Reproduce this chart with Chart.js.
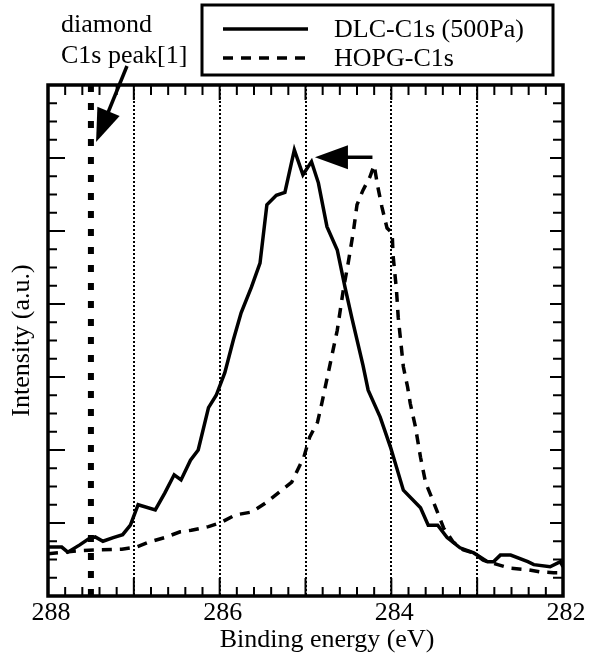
<!DOCTYPE html>
<html><head><meta charset="utf-8">
<script src="https://cdn.jsdelivr.net/npm/chart.js@4.4.1/dist/chart.umd.min.js"></script>
<style>html,body{margin:0;padding:0;background:#fff;}#wrap{width:589px;height:656px;}</style>
</head><body><div id="wrap"><canvas id="c" width="589" height="656"></canvas></div>
<script>
// ---- data ----
const energyDLC = [288.00, 287.84, 287.77, 287.63, 287.53, 287.45, 287.36, 287.24, 287.13, 287.04, 286.95, 286.75, 286.64, 286.53, 286.45, 286.34, 286.25, 286.13, 286.04, 285.94, 285.84, 285.75, 285.63, 285.53, 285.45, 285.34, 285.24, 285.13, 285.03, 284.93, 284.85, 284.75, 284.63, 284.54, 284.46, 284.33, 284.27, 284.13, 284.01, 283.86, 283.66, 283.57, 283.46, 283.35, 283.20, 283.04, 282.88, 282.81, 282.73, 282.61, 282.41, 282.34, 282.15, 282.03, 282.00];
const intensityDLC = [0.67, 0.67, 0.60, 0.70, 0.78, 0.81, 0.75, 0.80, 0.84, 0.97, 1.25, 1.18, 1.41, 1.66, 1.59, 1.86, 2.00, 2.58, 2.75, 3.06, 3.51, 3.88, 4.23, 4.56, 5.36, 5.49, 5.53, 6.11, 5.77, 5.95, 5.66, 5.06, 4.74, 4.23, 3.81, 3.16, 2.82, 2.45, 2.04, 1.45, 1.21, 0.97, 0.97, 0.80, 0.66, 0.59, 0.47, 0.47, 0.56, 0.56, 0.47, 0.43, 0.40, 0.47, 0.40];
const energyHOPG = [288.00, 287.65, 287.44, 287.14, 286.97, 286.82, 286.64, 286.46, 286.33, 286.13, 285.98, 285.82, 285.63, 285.47, 285.32, 285.16, 285.02, 284.95, 284.86, 284.81, 284.72, 284.63, 284.56, 284.50, 284.44, 284.40, 284.33, 284.25, 284.20, 284.16, 284.11, 284.05, 283.99, 283.98, 283.94, 283.92, 283.88, 283.86, 283.81, 283.78, 283.72, 283.66, 283.60, 283.52, 283.45, 283.39, 283.28, 283.16, 283.04, 282.93, 282.76, 282.61, 282.41, 282.26, 282.11, 282.00];
const intensityHOPG = [0.58, 0.62, 0.63, 0.64, 0.67, 0.74, 0.80, 0.88, 0.90, 0.95, 1.01, 1.11, 1.15, 1.27, 1.41, 1.56, 1.90, 2.18, 2.38, 2.64, 3.14, 3.64, 4.19, 4.58, 5.01, 5.36, 5.56, 5.74, 5.90, 5.62, 5.33, 5.04, 4.97, 4.67, 4.19, 3.82, 3.37, 3.14, 2.86, 2.64, 2.32, 1.90, 1.55, 1.32, 1.11, 0.93, 0.74, 0.63, 0.59, 0.49, 0.43, 0.38, 0.36, 0.33, 0.32, 0.32];
const diamondPeakEnergy = 287.5;
const intensityRange = [0, 7];
const energyRange = [282, 288];
const xTickLabels = [288, 286, 284, 282];
const seriesLabels = ['DLC-C1s (500Pa)', 'HOPG-C1s'];
const xTitle = 'Binding energy (eV)';
const yTitle = 'Intensity (a.u.)';
const noteLines = ['diamond', 'C1s peak[1]'];
// annotation arrows in data coordinates [energy, intensity]
const arrowDiamond = {from: [287.08, 7.26], to: [287.44, 6.22]};
const arrowShift = {from: [284.22, 6.01], to: [284.89, 6.01]};

const FONT = '"Liberation Serif", "Times New Roman", serif';
const pts = (xs, ys) => xs.map((v, i) => ({x: v, y: ys[i]}));

function drawArrow(ctx, x, y, a) {
  const x1 = x.getPixelForValue(a.from[0]), y1 = y.getPixelForValue(a.from[1]);
  const x2 = x.getPixelForValue(a.to[0]), y2 = y.getPixelForValue(a.to[1]);
  const dx = x2 - x1, dy = y2 - y1, len = Math.hypot(dx, dy);
  const ux = dx / len, uy = dy / len, px = -uy, py = ux;
  const hl = 33, hw = 12;
  const bx = x2 - ux * hl, by = y2 - uy * hl;
  ctx.lineWidth = 3.5; ctx.setLineDash([]);
  ctx.beginPath(); ctx.moveTo(x1, y1); ctx.lineTo(bx + ux * 2, by + uy * 2); ctx.stroke();
  ctx.beginPath(); ctx.moveTo(x2, y2); ctx.lineTo(bx + px * hw, by + py * hw); ctx.lineTo(bx - px * hw, by - py * hw); ctx.closePath(); ctx.fill();
}

const deco = {
  id: 'deco',
  afterDraw(chart) {
    const {ctx, chartArea: a, scales: {x, y}} = chart;
    ctx.save();
    ctx.strokeStyle = '#000'; ctx.fillStyle = '#000';
    ctx.setLineDash([]);
    ctx.lineWidth = 2;
    // x ticks (inward, top and bottom)
    for (let i = 0; i <= 30; i++) {
      const v = energyRange[0] + i * 0.2;
      const px = x.getPixelForValue(v);
      const major = i % 5 === 0;
      ctx.beginPath();
      ctx.moveTo(px, a.bottom); ctx.lineTo(px, a.bottom - (major ? 18 : 9));
      ctx.moveTo(px, a.top); ctx.lineTo(px, a.top + (major ? 15 : 10));
      ctx.stroke();
    }
    // y ticks (inward, left and right)
    for (let j = 0; j <= 28; j++) {
      const v = intensityRange[0] + j * 0.25;
      const py = y.getPixelForValue(v);
      const major = j % 4 === 0;
      ctx.beginPath();
      ctx.moveTo(a.left, py); ctx.lineTo(a.left + (major ? 17 : 9), py);
      ctx.moveTo(a.right, py); ctx.lineTo(a.right - (major ? 13 : 10), py);
      ctx.stroke();
    }
    // frame
    ctx.lineWidth = 3.5;
    ctx.strokeRect(a.left, a.top, a.right - a.left, a.bottom - a.top);
    // arrows
    drawArrow(ctx, x, y, arrowDiamond);
    drawArrow(ctx, x, y, arrowShift);
    // annotation text
    ctx.font = '26px ' + FONT;
    ctx.textAlign = 'left'; ctx.textBaseline = 'alphabetic';
    ctx.fillText(noteLines[0], 61, 32);
    ctx.fillText(noteLines[1], 61, 63);
    // x title
    ctx.textAlign = 'center';
    ctx.fillText(xTitle, 327, 647);
    // legend
    ctx.lineWidth = 3;
    ctx.strokeRect(202, 5, 351, 70);
    const ds = chart.data.datasets.filter(d => d.inLegend);
    const rows = [29, 58];
    ds.forEach((d, i) => {
      ctx.lineWidth = d.borderWidth;
      ctx.setLineDash(d.borderDash || []);
      ctx.beginPath(); ctx.moveTo(223, rows[i]); ctx.lineTo(308, rows[i]); ctx.stroke();
      ctx.setLineDash([]);
      ctx.textAlign = 'left';
      ctx.fillText(d.label, 334, rows[i] + 8);
    });
    ctx.restore();
  }
};

new Chart(document.getElementById('c'), {
  type: 'line',
  data: {
    datasets: [
      {label: seriesLabels[0], inLegend: true, data: pts(energyDLC, intensityDLC), borderColor: '#000', borderWidth: 3.5, pointRadius: 0, tension: 0, fill: false},
      {label: seriesLabels[1], inLegend: true, data: pts(energyHOPG, intensityHOPG), borderColor: '#000', borderWidth: 3.5, borderDash: [10, 8], pointRadius: 0, tension: 0, fill: false},
      {label: 'diamond', inLegend: false, data: [{x: diamondPeakEnergy, y: intensityRange[1]}, {x: diamondPeakEnergy, y: intensityRange[0]}], borderColor: '#000', borderWidth: 6, borderDash: [7, 11], pointRadius: 0, fill: false}
    ]
  },
  options: {
    responsive: false, animation: false, devicePixelRatio: 1,
    layout: {padding: {top: 85, right: 26, left: 0, bottom: 0}},
    plugins: {legend: {display: false}, tooltip: {enabled: false}},
    scales: {
      x: {
        type: 'linear', reverse: true, min: energyRange[0], max: energyRange[1],
        afterFit: s => { s.height = 60; },
        grid: {color: '#000', lineWidth: 2, drawTicks: false},
        border: {display: false, dash: [2, 2]},
        ticks: {stepSize: 1, padding: 2, labelOffset: 3, color: '#000', font: {family: FONT, size: 26},
          callback: v => xTickLabels.includes(v) ? String(v) : ''}
      },
      y: {
        type: 'linear', min: intensityRange[0], max: intensityRange[1],
        afterFit: s => { s.width = 48; },
        grid: {display: false, drawTicks: false},
        border: {display: false},
        ticks: {display: false},
        title: {display: true, text: yTitle, color: '#000', font: {family: FONT, size: 26}, padding: {top: 7, bottom: 0}}
      }
    }
  },
  plugins: [deco]
});
</script></body></html>
